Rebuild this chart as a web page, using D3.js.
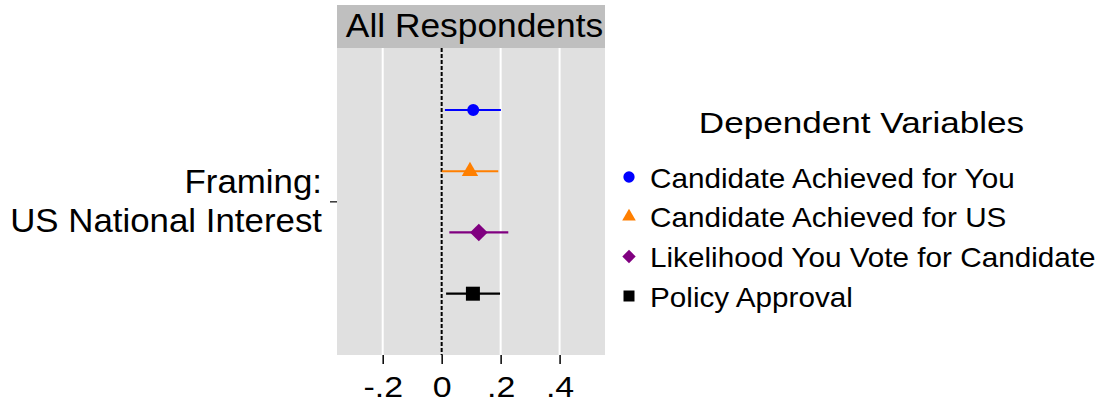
<!DOCTYPE html>
<html><head><meta charset="utf-8">
<script src="https://cdn.jsdelivr.net/npm/d3@7"></script>
<style>body{margin:0;background:#fff}svg{display:block}text{font-family:"Liberation Sans",Arial,Helvetica,sans-serif}</style>
</head><body><svg id="c" width="1106" height="406"></svg>
<script>
const seriesNames = ["Candidate Achieved for You","Candidate Achieved for US","Likelihood You Vote for Candidate","Policy Approval"];
const estimates = [0.107, 0.096, 0.126, 0.106];
const ciLow = [0.011, 0.000, 0.026, 0.015];
const ciHigh = [0.201, 0.192, 0.226, 0.198];
const seriesColors = ["#0000ff","#ff7f00","#800080","#000000"];
const seriesShapes = ["circle","triangle","diamond","square"];
const xTicks = [-0.2, 0, 0.2, 0.4];
const xTickLabels = ["-.2","0",".2",".4"];
const panelTitle = "All Respondents";
const categoryLines = ["Framing:","US National Interest"];
const legendTitle = "Dependent Variables";

const svg = d3.select("#c");
const P = {l:337, r:605, t:48, b:355, stripT:5};
const x = d3.scaleLinear().domain([-0.355, 0.554]).range([P.l, P.r]);
const y = d3.scalePoint().domain(d3.range(seriesNames.length)).range([110, 293.7]);

function stretch(sel, f){
  sel.each(function(){ const w=this.getComputedTextLength(); d3.select(this).attr("textLength", w*f).attr("lengthAdjust","spacingAndGlyphs"); });
}
function sym(shape, big){
  const s = big ? {circle:113, triangle:115, diamond:156, square:196} : {circle:100, triangle:80, diamond:90, square:121};
  const t = {circle:d3.symbolCircle, triangle:d3.symbolTriangle, diamond:d3.symbolSquare, square:d3.symbolSquare}[shape];
  return d3.symbol().type(t).size(s[shape])();
}

// strip
svg.append("rect").attr("x",P.l).attr("y",P.stripT).attr("width",P.r-P.l).attr("height",P.t-P.stripT).attr("fill","#bfbfbf");
svg.append("text").attr("x",474.5).attr("y",36.7).attr("text-anchor","middle").attr("font-size",32.5).attr("fill","#000").text(panelTitle)
  .call(stretch,1.087);
// panel
svg.append("rect").attr("x",P.l).attr("y",P.t).attr("width",P.r-P.l).attr("height",P.b-P.t).attr("fill","#e0e0e0");
svg.append("g").selectAll("line").data(xTicks.filter(d=>d!==0)).join("line")
  .attr("x1",d=>x(d)).attr("x2",d=>x(d)).attr("y1",P.t).attr("y2",P.b).attr("stroke","#fff").attr("stroke-width",2);
svg.append("line").attr("x1",x(0)).attr("x2",x(0)).attr("y1",P.t).attr("y2",P.b).attr("stroke","#000").attr("stroke-width",2).attr("stroke-dasharray","4,2");

// x axis
const xa = svg.append("g").attr("transform",`translate(0,${P.b})`)
  .call(d3.axisBottom(x).tickValues(xTicks).tickFormat((d,i)=>xTickLabels[i]).tickSize(9).tickPadding(0));
xa.select(".domain").remove();
xa.selectAll(".tick line").attr("stroke","#000").attr("stroke-width",1.5);
xa.selectAll(".tick text").attr("font-size",30).attr("fill","#000").attr("dy",null).attr("y",41.7)
  .attr("font-family","Liberation Sans, Arial, sans-serif").call(stretch,1.13);

// y tick + category
const yc = (y(0)+y(3))/2;
svg.append("line").attr("x1",P.l-7).attr("x2",P.l).attr("y1",yc).attr("y2",yc).attr("stroke","#000").attr("stroke-width",1.2);
const ct = svg.append("text").attr("text-anchor","end").attr("font-size",33.5).attr("fill","#000");
categoryLines.forEach((l,i)=>ct.append("tspan").attr("x",322).attr("y",193.3+i*38.2).text(l));
stretch(ct.selectAll("tspan"),1.04);

// error bars & points
const idx = d3.range(seriesNames.length);
svg.append("g").selectAll("line").data(idx).join("line")
  .attr("x1",i=>x(ciLow[i])).attr("x2",i=>x(ciHigh[i])).attr("y1",i=>y(i)).attr("y2",i=>y(i))
  .attr("stroke",i=>seriesColors[i]).attr("stroke-width",2.2);
svg.append("g").selectAll("path").data(idx).join("path")
  .attr("d",i=>sym(seriesShapes[i],true))
  .attr("transform",i=>`translate(${x(estimates[i])},${y(i)})`+(seriesShapes[i]==="diamond"?" rotate(45)":""))
  .attr("fill",i=>seriesColors[i]);

// legend
svg.append("text").attr("x",861.5).attr("y",133).attr("text-anchor","middle").attr("font-size",30).attr("fill","#000").text(legendTitle)
  .call(stretch,1.17);
const ly = [177, 216.5, 256.5, 296];
const lg = svg.append("g").selectAll("g").data(idx).join("g").attr("transform",i=>`translate(0,${ly[i]})`);
lg.append("path").attr("d",i=>sym(seriesShapes[i],false))
  .attr("transform",i=>`translate(629,0)`+(seriesShapes[i]==="diamond"?" rotate(45)":""))
  .attr("fill",i=>seriesColors[i]);
lg.append("text").attr("x",650).attr("y",10.5).attr("font-size",28).attr("fill","#000").text(i=>seriesNames[i]).call(stretch,1.06);
</script></body></html>
